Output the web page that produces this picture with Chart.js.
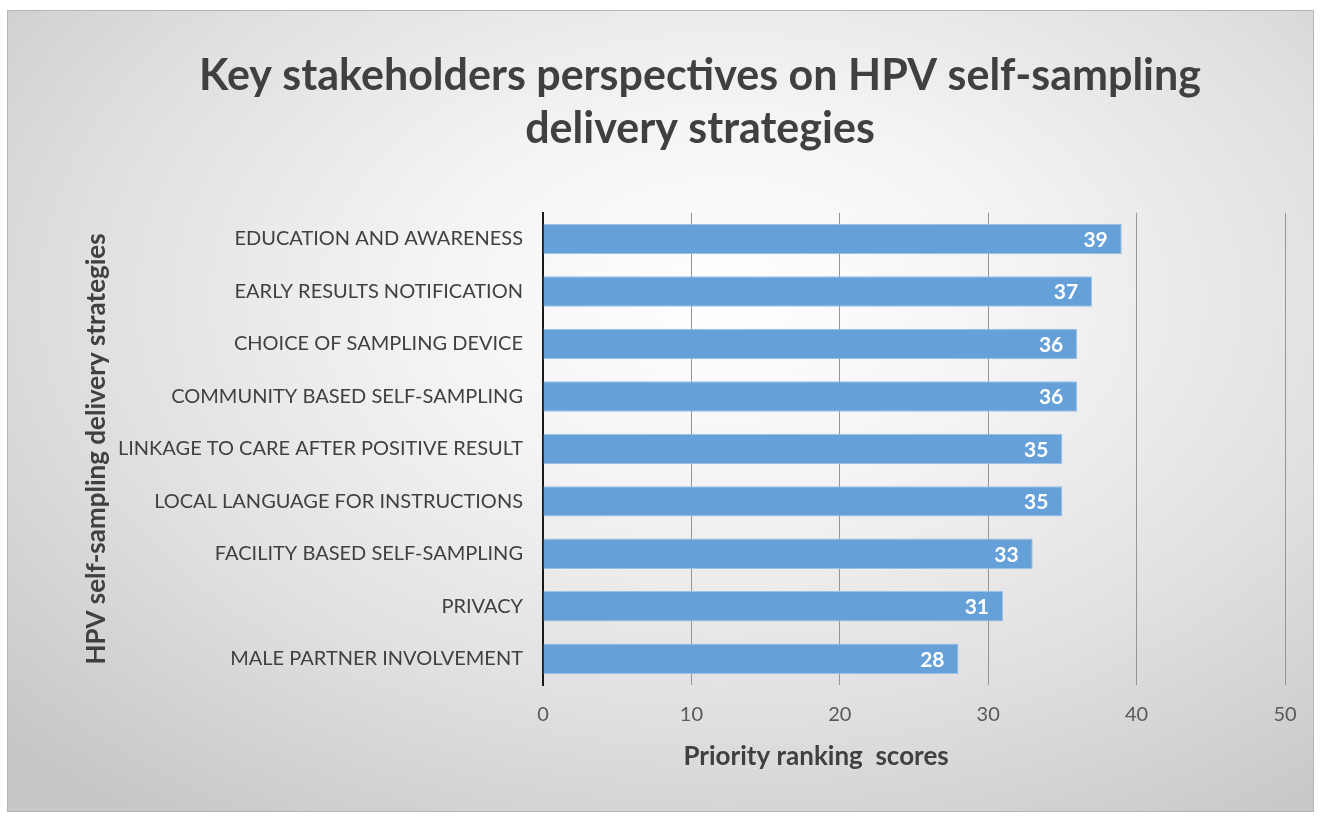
<!DOCTYPE html>
<html>
<head>
<meta charset="utf-8">
<script src="https://cdn.jsdelivr.net/npm/chart.js@4.4.1/dist/chart.umd.min.js"></script>
<style>
  html, body { margin: 0; padding: 0; background: #ffffff; }
  #frame {
    position: absolute; left: 7px; top: 10px; width: 1305px; height: 800px;
    border: 1px solid #b5b5b5;
    background: radial-gradient(ellipse 75% 80% at 55% 36%, #ffffff 0%, #f4f4f4 30%, #e0e0e0 65%, #c7c7c7 100%);
  }
  #wrap { position: absolute; left: 0; top: 0; width: 1325px; height: 818px; }
</style>
</head>
<body>
<div id="frame"></div>
<div id="wrap"><canvas id="c" width="1325" height="818"></canvas></div>
<script>
const chartTitle = ['Key stakeholders perspectives on HPV self-sampling', 'delivery strategies'];
const categories = [
  'EDUCATION AND AWARENESS',
  'EARLY RESULTS NOTIFICATION',
  'CHOICE OF SAMPLING DEVICE',
  'COMMUNITY BASED SELF-SAMPLING',
  'LINKAGE TO CARE AFTER POSITIVE RESULT',
  'LOCAL LANGUAGE FOR INSTRUCTIONS',
  'FACILITY BASED SELF-SAMPLING',
  'PRIVACY',
  'MALE PARTNER INVOLVEMENT'
];
const scores = [39, 37, 36, 36, 35, 35, 33, 31, 28];
const xTicks = [0, 10, 20, 30, 40, 50];
const xAxisTitle = 'Priority ranking  scores';
const yAxisTitle = 'HPV self-sampling delivery strategies';

const FONT = 'Lato';

const valueLabels = {
  id: 'valueLabels',
  afterDatasetsDraw(chart) {
    const ctx = chart.ctx;
    const meta = chart.getDatasetMeta(0);
    ctx.save();
    ctx.fillStyle = '#ffffff';
    ctx.font = 'bold 21px ' + FONT;
    ctx.textAlign = 'right';
    ctx.textBaseline = 'middle';
    meta.data.forEach((bar, i) => {
      ctx.fillText(String(chart.data.datasets[0].data[i]), bar.x - 14, bar.y + 1);
    });
    ctx.restore();
  }
};

const xTitlePlugin = {
  id: 'xTitlePlugin',
  afterDraw(chart) {
    const ctx = chart.ctx;
    const a = chart.chartArea;
    ctx.save();
    ctx.fillStyle = '#404040';
    ctx.font = 'bold 26px ' + FONT;
    ctx.textAlign = 'center';
    ctx.textBaseline = 'middle';
    ctx.fillText(xAxisTitle, a.left + 0.368 * (a.right - a.left), a.bottom + 72);
    ctx.restore();
  }
};

new Chart(document.getElementById('c'), {
  type: 'bar',
  data: {
    labels: categories,
    datasets: [{
      data: scores,
      backgroundColor: '#65a0d9',
      borderColor: '#9cc2e8',
      borderWidth: 1,
      barPercentage: 0.58,
      categoryPercentage: 1
    }]
  },
  options: {
    indexAxis: 'y',
    responsive: false,
    animation: false,
    devicePixelRatio: 1,
    layout: { padding: { left: 115, right: 40, top: 0, bottom: 0 } },
    plugins: {
      legend: { display: false },
      tooltip: { enabled: false },
      title: {
        display: true,
        text: chartTitle,
        color: '#404040',
        font: { family: FONT, size: 43, weight: 'bold', lineHeight: 1.23 },
        padding: { top: 50, bottom: 57 }
      }
    },
    scales: {
      x: {
        min: 0, max: 50,
        afterBuildTicks(scale) { scale.ticks = xTicks.map(v => ({ value: v })); },
        afterFit(scale) { scale.height = 133; },
        ticks: { color: '#595959', font: { family: FONT, size: 20 }, padding: 18 },
        grid: { color: '#959595', lineWidth: 1, drawTicks: false },
        border: { display: false }
      },
      y: {
        afterFit(scale) { scale.width = 543 - 115; },
        ticks: { color: '#404040', font: { family: FONT, size: 20 }, padding: 20 },
        grid: { display: false, drawTicks: false },
        border: { display: true, color: '#1a1a1a', width: 2 },
        title: {
          display: true,
          text: yAxisTitle,
          color: '#404040',
          font: { family: FONT, size: 26, weight: 'bold' },
          padding: { top: -34, bottom: 0 }
        }
      }
    }
  },
  plugins: [valueLabels, xTitlePlugin]
});
</script>
</body>
</html>
